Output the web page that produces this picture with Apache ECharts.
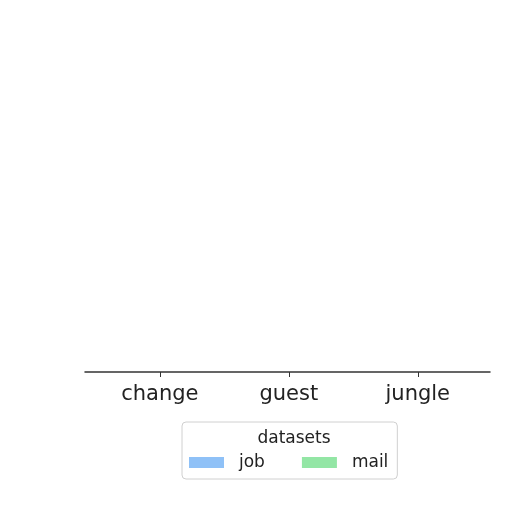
<!DOCTYPE html>
<html>
<head>
<meta charset="utf-8">
<script src="https://cdn.jsdelivr.net/npm/echarts@6/dist/echarts.min.js"></script>
<style>
html, body { margin: 0; padding: 0; background: #fff; }
#chart { width: 512px; height: 512px; }
</style>
</head>
<body>
<div id="chart"></div>
<script>
var categories = ['change', 'guest', 'jungle'];
var seriesNames = ['job', 'mail'];
var jobValues = [0, 0, 0];
var mailValues = [0, 0, 0];
var legendTitle = 'datasets';

function toPoints(vals) {
    return vals.map(function (v, i) { return [i, v]; });
}

var myChart = echarts.init(document.getElementById('chart'));
var option = {
    backgroundColor: '#fff',
    animation: false,
    color: ['#8fc1f7', '#93e6a5'],
    textStyle: { fontFamily: 'DejaVu Sans' },
    title: {
        text: legendTitle,
        left: 289,
        top: 425,
        textAlign: 'center',
        textStyle: { fontFamily: 'DejaVu Sans', fontWeight: 'normal', fontSize: 17, color: '#222' }
    },
    legend: {
        data: seriesNames,
        left: 182,
        top: 422,
        orient: 'horizontal',
        icon: 'rect',
        itemWidth: 35,
        itemHeight: 11,
        itemGap: 37,
        padding: [32, 9, 8, 7],
        borderColor: '#d0d0d0',
        borderWidth: 1,
        borderRadius: 4,
        backgroundColor: '#fff',
        textStyle: { fontFamily: 'DejaVu Sans', fontSize: 17, color: '#222', padding: [0, 0, 0, 10] }
    },
    grid: { left: 85, right: 22, top: 20, bottom: 140 },
    xAxis: {
        type: 'value',
        min: -0.58,
        max: 2.56,
        splitLine: { show: false },
        axisLine: { show: true, lineStyle: { color: '#333', width: 1.5 } },
        axisTick: { show: true, customValues: [0, 1, 2], length: 5, lineStyle: { color: '#333' } },
        axisLabel: {
            customValues: [0, 1, 2],
            margin: 12,
            fontSize: 21,
            color: '#222',
            fontFamily: 'DejaVu Sans',
            formatter: function (v) { return categories[Math.round(v)]; }
        }
    },
    yAxis: {
        type: 'value',
        min: 0,
        max: 1,
        show: false
    },
    series: [
        { name: seriesNames[0], type: 'bar', barWidth: 40, barGap: 0, data: toPoints(jobValues) },
        { name: seriesNames[1], type: 'bar', barWidth: 40, barGap: 0, data: toPoints(mailValues) }
    ]
};
myChart.setOption(option);
</script>
</body>
</html>
